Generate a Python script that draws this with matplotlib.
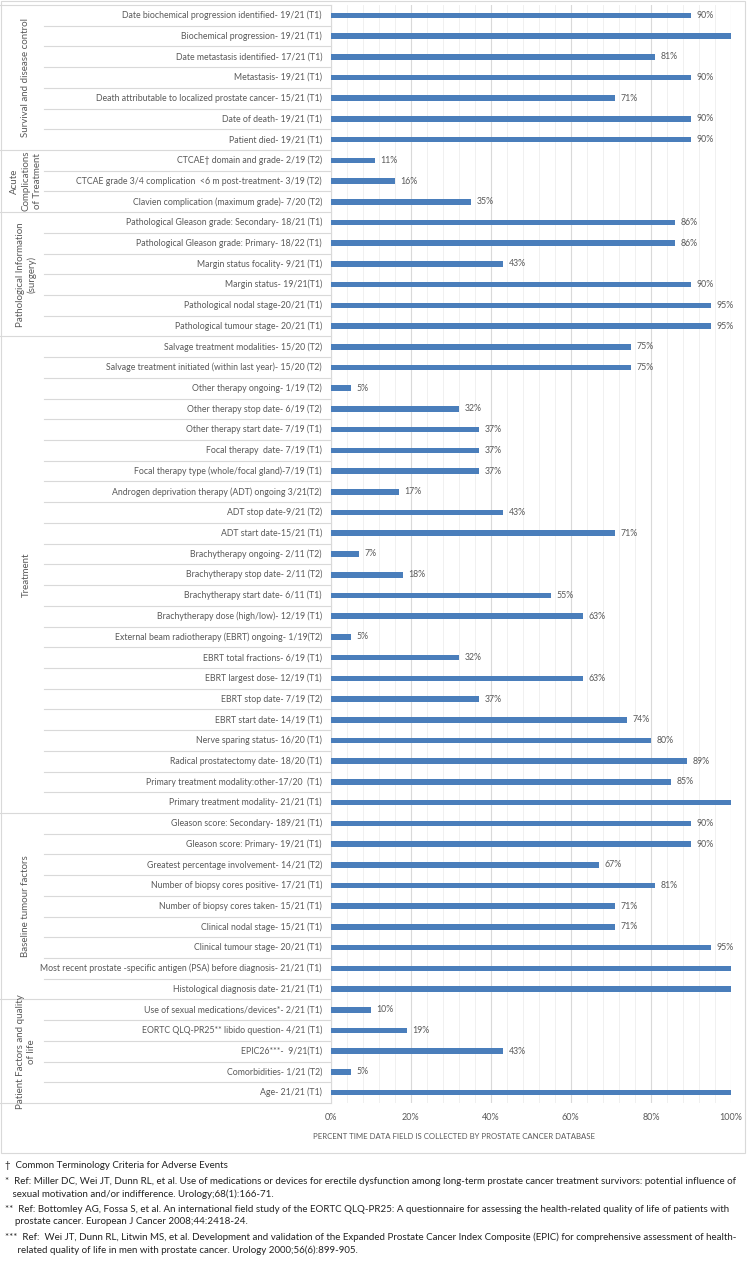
import matplotlib
matplotlib.use("Agg")
import matplotlib.pyplot as plt
from matplotlib.patches import Rectangle
from matplotlib.transforms import blended_transform_factory
from matplotlib.ticker import MultipleLocator, PercentFormatter

plt.rcParams['font.family'] = ['Lato', 'DejaVu Sans']

# --- data, top to bottom ---
labels = [
    "Date biochemical progression identified- 19/21 (T1)",
    "Biochemical progression- 19/21 (T1)",
    "Date metastasis identified- 17/21 (T1)",
    "Metastasis- 19/21 (T1)",
    "Death attributable to localized prostate cancer- 15/21 (T1)",
    "Date of death- 19/21 (T1)",
    "Patient died- 19/21 (T1)",
    "CTCAE\u2020 domain and grade- 2/19 (T2)",
    "CTCAE grade 3/4 complication  <6 m post-treatment- 3/19 (T2)",
    "Clavien complication (maximum grade)- 7/20 (T2)",
    "Pathological Gleason grade: Secondary- 18/21 (T1)",
    "Pathological Gleason grade: Primary- 18/22 (T1)",
    "Margin status focality- 9/21 (T1)",
    "Margin status- 19/21(T1)",
    "Pathological nodal stage-20/21 (T1)",
    "Pathological tumour stage- 20/21 (T1)",
    "Salvage treatment modalities- 15/20 (T2)",
    "Salvage treatment initiated (within last year)- 15/20 (T2)",
    "Other therapy ongoing- 1/19 (T2)",
    "Other therapy stop date- 6/19 (T2)",
    "Other therapy start date- 7/19 (T1)",
    "Focal therapy  date- 7/19 (T1)",
    "Focal therapy type (whole/focal gland)-7/19 (T1)",
    "Androgen deprivation therapy (ADT) ongoing 3/21(T2)",
    "ADT stop date-9/21 (T2)",
    "ADT start date-15/21 (T1)",
    "Brachytherapy ongoing- 2/11 (T2)",
    "Brachytherapy stop date- 2/11 (T2)",
    "Brachytherapy start date- 6/11 (T1)",
    "Brachytherapy dose (high/low)- 12/19 (T1)",
    "External beam radiotherapy (EBRT) ongoing- 1/19(T2)",
    "EBRT total fractions- 6/19 (T1)",
    "EBRT largest dose- 12/19 (T1)",
    "EBRT stop date- 7/19 (T2)",
    "EBRT start date- 14/19 (T1)",
    "Nerve sparing status- 16/20 (T1)",
    "Radical prostatectomy date- 18/20 (T1)",
    "Primary treatment modality:other-17/20  (T1)",
    "Primary treatment modality- 21/21 (T1)",
    "Gleason score: Secondary- 189/21 (T1)",
    "Gleason score: Primary- 19/21 (T1)",
    "Greatest percentage involvement- 14/21 (T2)",
    "Number of biopsy cores positive- 17/21 (T1)",
    "Number of biopsy cores taken- 15/21 (T1)",
    "Clinical nodal stage- 15/21 (T1)",
    "Clinical tumour stage- 20/21 (T1)",
    "Most recent prostate -specific antigen (PSA) before diagnosis- 21/21 (T1)",
    "Histological diagnosis date- 21/21 (T1)",
    "Use of sexual medications/devices*- 2/21 (T1)",
    "EORTC QLQ-PR25** libido question- 4/21 (T1)",
    "EPIC26***-  9/21(T1)",
    "Comorbidities- 1/21 (T2)",
    "Age- 21/21 (T1)",
]

values = [
    90, 100, 81, 90, 71, 90, 90,
    11, 16, 35,
    86, 86, 43, 90, 95, 95,
    75, 75, 5, 32, 37, 37, 37, 17, 43, 71, 7, 18, 55, 63, 5, 32, 63, 37, 74, 80, 89, 85, 100,
    90, 90, 67, 81, 71, 71, 95, 100, 100,
    10, 19, 43, 5, 100,
]

groups = [
    "Survival and disease control",
    "Acute\nComplications\nof Treatment",
    "Pathological Information\n(surgery)",
    "Treatment",
    "Baseline tumour factors",
    "Patient Factors and quality\nof life",
]
group_sizes = [7, 3, 6, 23, 9, 5]

footnotes = [
    "\u2020  Common Terminology Criteria for Adverse Events",
    "*  Ref: Miller DC, Wei JT, Dunn RL, et al. Use of medications or devices for erectile dysfunction among long-term prostate cancer treatment survivors: potential influence of",
    "   sexual motivation and/or indifference. Urology;68(1):166-71.",
    "**  Ref: Bottomley AG, Fossa S, et al. An international field study of the EORTC QLQ-PR25: A questionnaire for assessing the health-related quality of life of patients with",
    "    prostate cancer. European J Cancer 2008;44:2418-24.",
    "***  Ref:  Wei JT, Dunn RL, Litwin MS, et al. Development and validation of the Expanded Prostate Cancer Index Composite (EPIC) for comprehensive assessment of health-",
    "     related quality of life in men with prostate cancer. Urology 2000;56(6):899-905.",
]

W, H = 748, 1262
fig = plt.figure(figsize=(W / 100, H / 100), dpi=100)

def fx(px):
    return px / W

def fy(py):
    return 1 - py / H

plot_left, plot_right, plot_top, plot_bottom = 330.5, 731, 5, 1103
ax = fig.add_axes([fx(plot_left), fy(plot_bottom), fx(plot_right - plot_left),
                   (plot_bottom - plot_top) / H])

n = len(labels)
ypos = list(range(n))
bar_color = '#4A7EBB'
text_color = '#595959'
grid_color = '#D9D9D9'

ax.barh(ypos, values, height=0.27, color=bar_color, zorder=3)
for y, v in zip(ypos, values):
    if v < 100:
        ax.text(v + 1.5, y, f"{v}%", va='center', ha='left', fontsize=6.3, color=text_color)

ax.set_xlim(0, 100)
ax.set_ylim(n - 0.5, -0.5)
ax.set_yticks([])
ax.xaxis.set_major_locator(MultipleLocator(20))
ax.xaxis.set_minor_locator(MultipleLocator(4))
ax.xaxis.set_major_formatter(PercentFormatter(decimals=0))
ax.tick_params(axis='x', which='both', length=0, labelsize=6.5, labelcolor=text_color, pad=7)
ax.grid(axis='x', which='major', color=grid_color, lw=0.8, zorder=0)
ax.grid(axis='x', which='minor', color='#EEEEEE', lw=0.6, zorder=0)
for s in ['top', 'right', 'bottom']:
    ax.spines[s].set_visible(False)
ax.spines['left'].set_color(grid_color)
ax.spines['left'].set_linewidth(0.8)
ax.set_xlabel("PERCENT TIME DATA FIELD IS COLLECTED BY PROSTATE CANCER DATABASE",
              fontsize=5.6, color=text_color, labelpad=8)
ax.xaxis.set_label_coords((454 - plot_left) / (plot_right - plot_left), -0.027)

# category labels and separators on the left side
tr = blended_transform_factory(fig.transFigure, ax.transData)
for y, lab in zip(ypos, labels):
    ax.text(fx(322), y, lab, transform=tr, ha='right', va='center', fontsize=6.3,
            color=text_color, clip_on=False)

start = 0
bounds = [-0.5]
for g, size in zip(groups, group_sizes):
    for k in range(start + 1, start + size):
        ax.plot([fx(44), fx(plot_left)], [k - 0.5, k - 0.5], transform=tr,
                color=grid_color, lw=0.8, clip_on=False)
    end = start + size
    bounds.append(end - 0.5)
    mid = (start + end - 1) / 2
    ax.text(fx(26), mid, g, transform=tr, rotation=90, ha='center', va='center',
            fontsize=7, color=text_color, multialignment='center', clip_on=False,
            linespacing=1.3)
    start = end
for b in bounds:
    ax.plot([fx(0), fx(plot_left)], [b, b], transform=tr, color=grid_color, lw=0.8,
            clip_on=False)

# outer chart border
fig.add_artist(Rectangle((fx(1), fy(1153)), fx(744), (1152) / H, transform=fig.transFigure,
                         fill=False, edgecolor=grid_color, lw=0.8))

# footnotes
foot_y = [1166, 1181, 1194, 1209, 1222, 1237, 1250]
for t, y in zip(footnotes, foot_y):
    fig.text(fx(5), fy(y), t, fontsize=7.0, color='#222222', ha='left', va='center')

fig.savefig("out.png", dpi=100)
